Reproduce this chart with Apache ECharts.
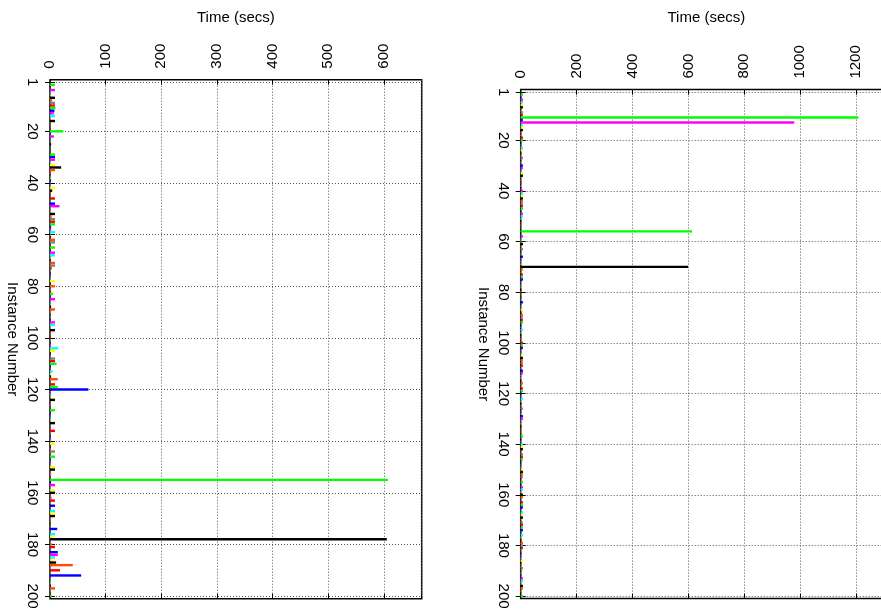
<!DOCTYPE html>
<html><head><meta charset="utf-8">
<script src="https://cdn.jsdelivr.net/npm/echarts@6/dist/echarts.min.js"></script>
<style>html,body{margin:0;padding:0;background:#fff}#c{width:881px;height:614px}</style>
</head><body><div id="c"></div>
<script>
// Time (secs) per instance 1..200, left panel
const leftTimes = [
  1, 9, 1, 9, 1, 1, 9, 4, 9, 9, 10, 8, 7, 9, 1, 9, 1, 1, 1, 24,
  1, 7, 0.5, 0.5, 2, 0.5, 0.5, 1, 9, 9, 9, 2, 9, 20, 9, 1, 1, 2, 1, 1,
  1, 9, 4, 1, 1, 9, 1, 9, 17, 1, 1, 9, 3, 9, 9, 9, 2, 2, 9, 1,
  1, 9, 9, 1, 9, 1, 9, 9, 1, 1, 9, 9, 3, 1, 1, 1, 1, 9, 1, 9,
  1, 2, 5, 1, 9, 1, 1, 2, 9, 2, 1, 1, 1, 9, 9, 1, 9, 1, 1, 2,
  1, 1, 2, 15, 9, 1, 1, 9, 9, 12, 1, 1, 5, 2, 2, 14, 1, 9, 14, 69,
  1, 1, 1, 9, 1, 1, 1, 9, 1, 1, 1, 1, 9, 1, 1, 9, 1, 1, 2, 1,
  9, 1, 1, 9, 1, 9, 1, 1, 1, 9, 9, 2, 2, 1, 607, 2, 9, 1, 9, 9,
  1, 3, 9, 1, 9, 1, 9, 9, 9, 2, 1, 1, 1, 13, 1, 9, 5, 605, 2, 4,
  9, 1, 14, 14, 9, 6, 11, 41, 2, 18, 1, 56, 1, 1, 1, 1, 9, 1, 1, 3
];
// Time (secs) per instance 1..200, right panel
const rightTimes = [
  2, 8, 2, 8, 8, 8, 8, 2, 8, 8, 1208, 8, 979, 8, 8, 8, 4, 2, 8, 8,
  2, 2, 8, 8, 2, 2, 8, 2, 2, 8, 8, 2, 8, 8, 2, 2, 2, 2, 2, 8,
  8, 8, 8, 8, 8, 8, 8, 2, 8, 8, 2, 2, 2, 2, 2, 613, 2, 8, 2, 2,
  8, 2, 8, 2, 2, 8, 2, 2, 2, 599, 8, 2, 8, 8, 8, 2, 2, 2, 2, 2,
  2, 2, 2, 8, 2, 2, 8, 2, 8, 8, 8, 8, 2, 2, 8, 2, 2, 2, 2, 8,
  8, 8, 2, 2, 8, 8, 8, 8, 8, 2, 8, 8, 2, 2, 2, 8, 2, 8, 8, 2,
  2, 8, 2, 2, 2, 8, 2, 2, 8, 8, 2, 2, 2, 2, 2, 2, 8, 2, 2, 8,
  8, 8, 2, 8, 8, 8, 2, 2, 2, 8, 8, 8, 8, 2, 8, 2, 8, 8, 2, 8,
  8, 2, 8, 8, 8, 2, 8, 8, 8, 2, 8, 8, 8, 8, 2, 8, 2, 2, 8, 8,
  8, 2, 2, 2, 2, 8, 2, 2, 8, 2, 2, 2, 8, 8, 2, 8, 8, 2, 2, 8
];
const instanceTickValues = [1, 20, 40, 60, 80, 100, 120, 140, 160, 180, 200];
const leftTimeMax = 667.7, leftTimeStep = 100;
const rightTimeMax = 1329, rightTimeStep = 200;
const timeTitle = 'Time (secs)';
const instanceTitle = 'Instance Number';

const palette = ['#ff0000','#00ff00','#0000ff','#ff00ff','#00ffff','#ffff00','#000000','#ff4d00','#808080'];
const categories = [];
for (let i = 0; i <= 201; i++) categories.push(String(i));
const tickSet = new Set(instanceTickValues);
const showTick = (idx) => tickSet.has(idx);
const FONT = 'Liberation Sans, Arial, Helvetica, sans-serif';
const dotted = { type: [1, 2], color: '#555', width: 1 };

const grids = [
  { left: 50, top: 79.7, width: 371.7, height: 519, show: true, borderColor: '#000', borderWidth: 1.5, outerBoundsMode: 'none', containLabel: false },
  { left: 520.7, top: 89.6, width: 371.4, height: 509, show: true, borderColor: '#000', borderWidth: 1.5, outerBoundsMode: 'none', containLabel: false }
];
const xAxes = [], yAxes = [], series = [];
const panels = [
  { times: leftTimes, max: leftTimeMax, step: leftTimeStep, nameGapX: 54 },
  { times: rightTimes, max: rightTimeMax, step: rightTimeStep, nameGapX: 64 }
];
panels.forEach((p, g) => {
  xAxes.push({
    gridIndex: g, type: 'value', position: 'top', min: 0, max: p.max, interval: p.step,
    name: timeTitle, nameLocation: 'middle', nameGap: p.nameGapX,
    nameTextStyle: { fontSize: 15, color: '#000', fontFamily: FONT },
    axisLine: { show: false },
    axisTick: { show: true, inside: true, length: 5, lineStyle: { color: '#000' } },
    axisLabel: { rotate: -90, margin: 11, fontSize: 15, color: '#000', fontFamily: FONT, showMaxLabel: false,
                 formatter: (v) => String(v) },
    splitLine: { show: true, lineStyle: dotted }
  });
  xAxes.push({
    gridIndex: g, type: 'value', position: 'bottom', min: 0, max: p.max, interval: p.step,
    axisLine: { show: false },
    axisTick: { show: true, inside: true, length: 5, lineStyle: { color: '#000' } },
    axisLabel: { show: false }, splitLine: { show: false }
  });
  yAxes.push({
    gridIndex: g, type: 'category', data: categories, inverse: true, boundaryGap: false, position: 'left',
    name: instanceTitle, nameLocation: 'middle', nameRotate: -90, nameGap: 30,
    nameTextStyle: { fontSize: 15, color: '#000', fontFamily: FONT },
    axisLine: { show: false },
    axisTick: { show: true, inside: true, length: 5, interval: showTick, lineStyle: { color: '#000' } },
    axisLabel: { rotate: -90, margin: 10, fontSize: 15, color: '#000', fontFamily: FONT, interval: showTick },
    splitLine: { show: true, interval: showTick, lineStyle: dotted }
  });
  yAxes.push({
    gridIndex: g, type: 'category', data: categories, inverse: true, boundaryGap: false, position: 'right',
    axisLine: { show: false },
    axisTick: { show: true, inside: true, length: 5, interval: showTick, lineStyle: { color: '#000' } },
    axisLabel: { show: false }, splitLine: { show: false }
  });
  series.push({
    type: 'bar', xAxisIndex: g * 2, yAxisIndex: g * 2, barWidth: 2.4, silent: true,
    data: p.times.map((v, i) => [v, i + 1]),
    itemStyle: { color: (pr) => palette[(pr.data[1] - 1) % 9] }
  });
});

const chart = echarts.init(document.getElementById('c'), null, { renderer: 'canvas' });
chart.setOption({
  animation: false,
  backgroundColor: '#fff',
  textStyle: { fontFamily: FONT },
  grid: grids, xAxis: xAxes, yAxis: yAxes, series: series
});
</script></body></html>
